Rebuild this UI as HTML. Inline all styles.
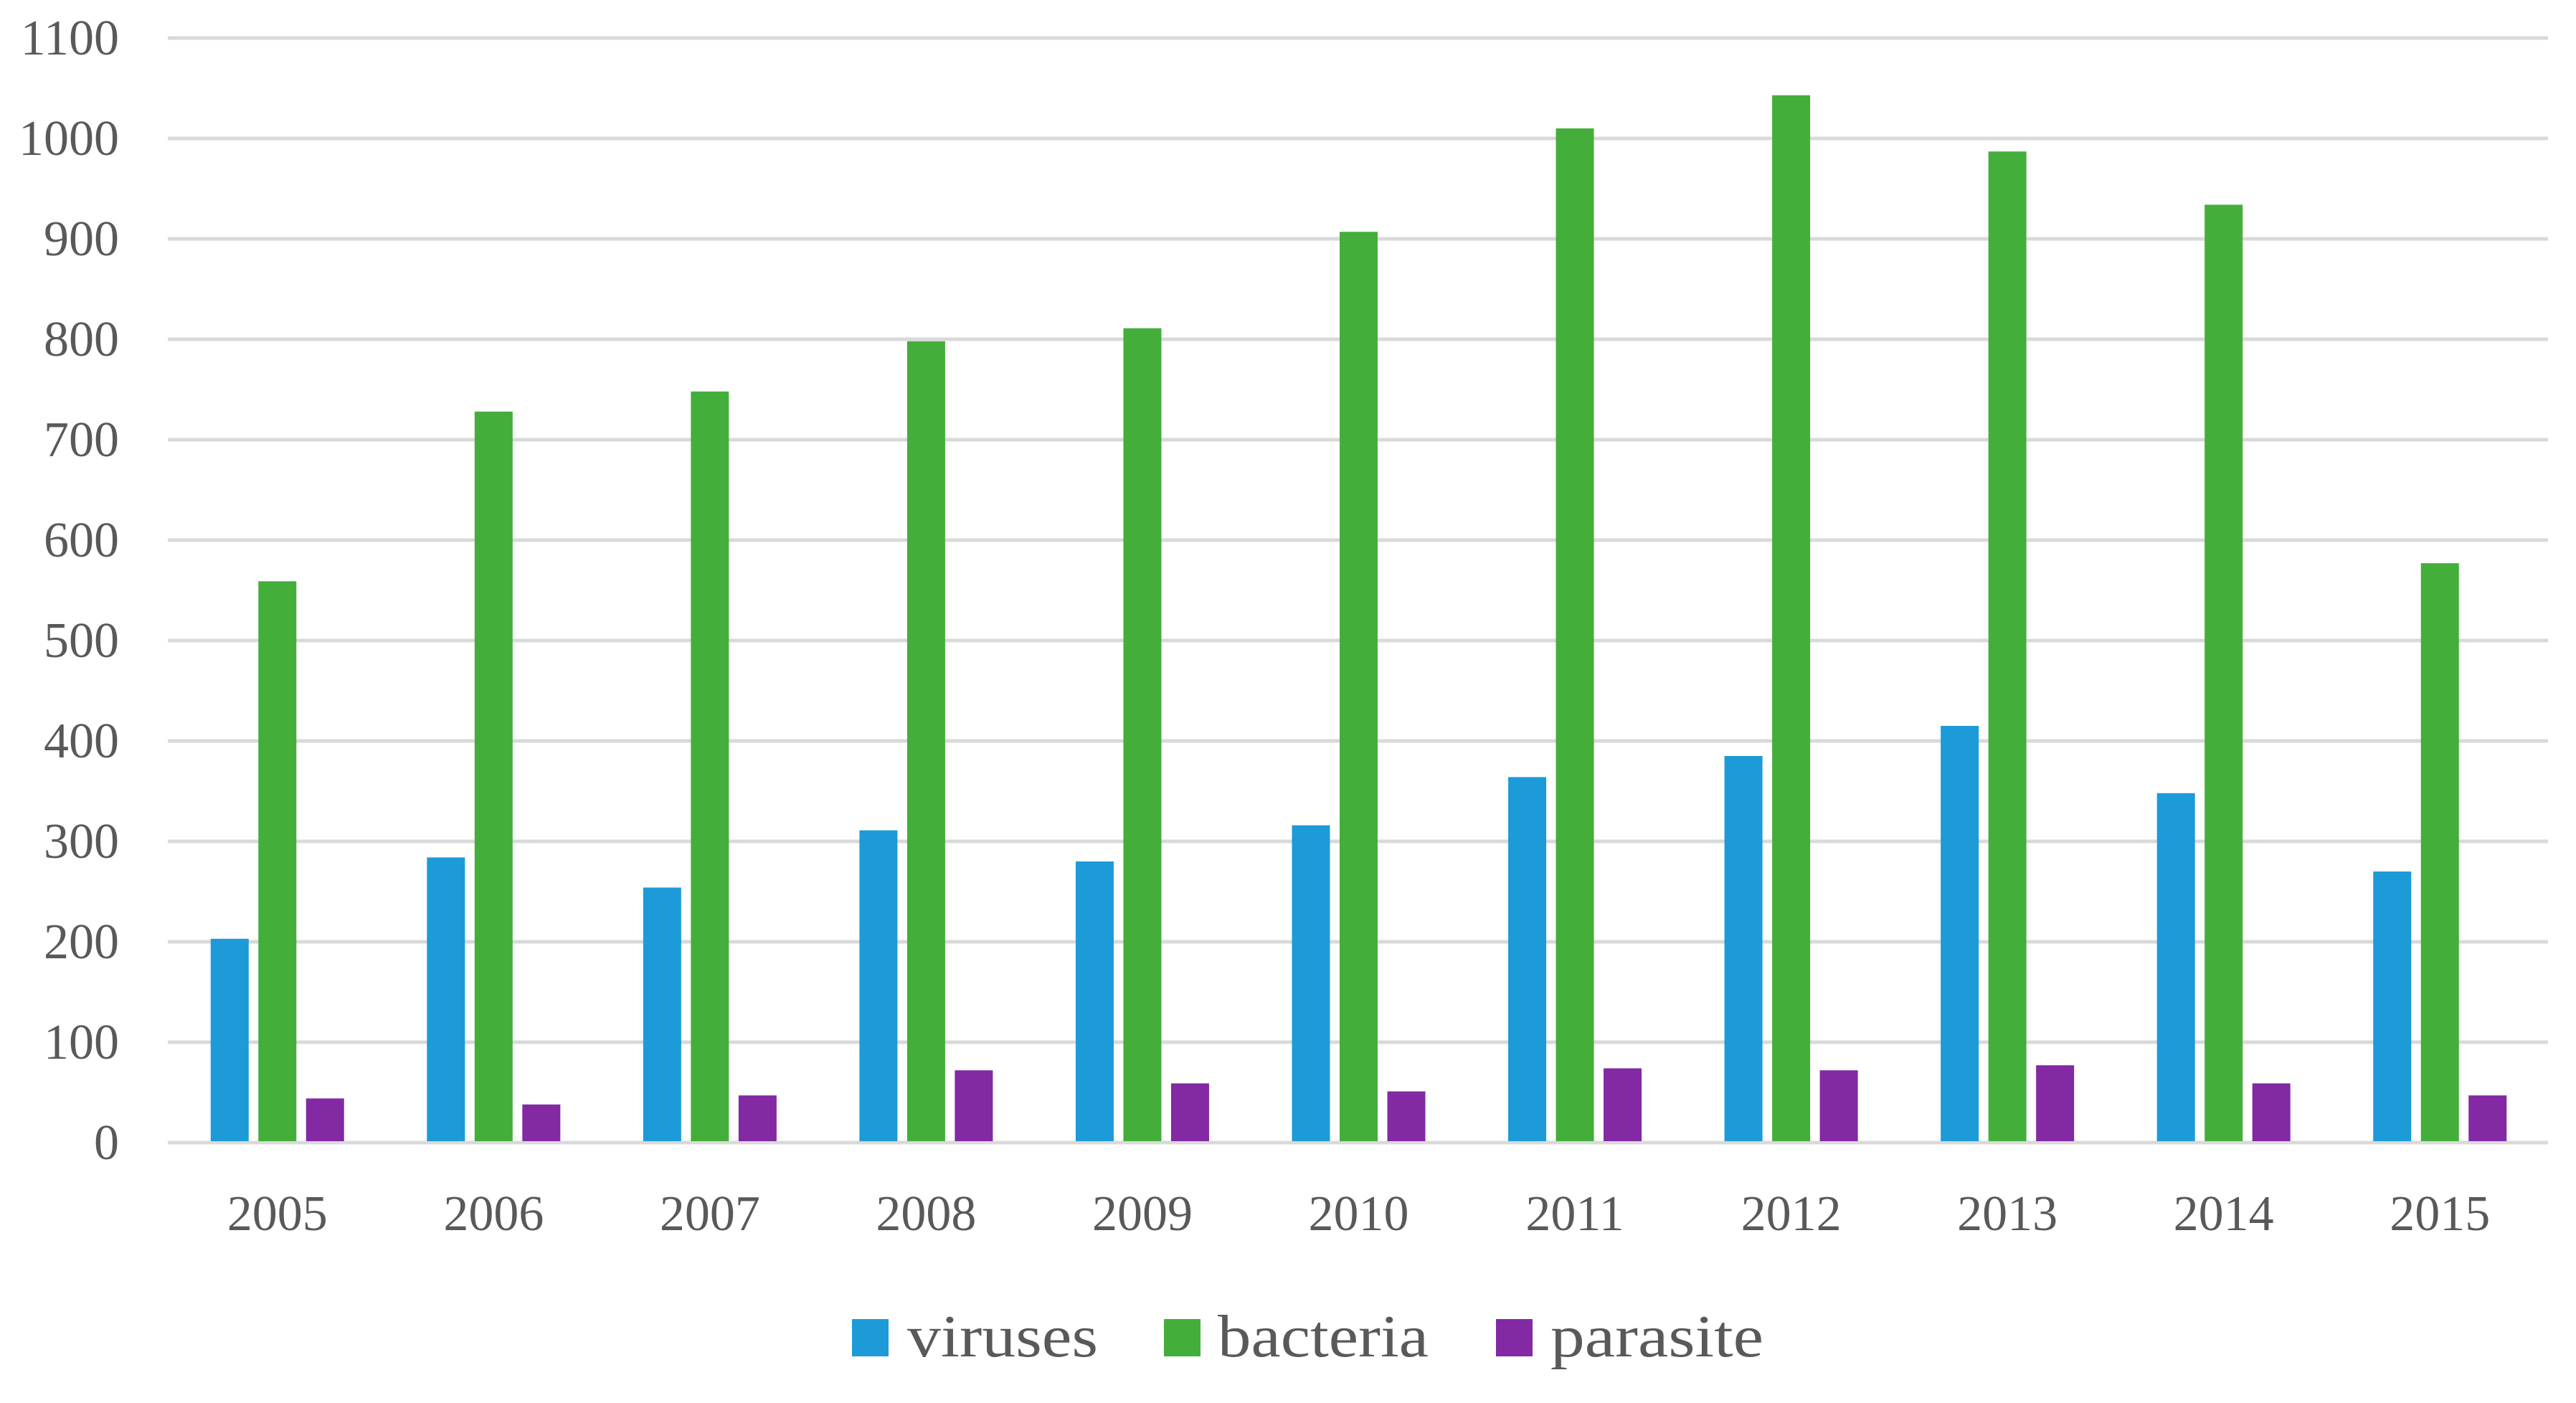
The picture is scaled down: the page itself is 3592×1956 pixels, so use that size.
<!DOCTYPE html>
<html><head><meta charset="utf-8"><style>
html,body{margin:0;padding:0;background:#fff;}
svg{display:block;}
text{font-family:"Liberation Serif",serif;fill:#595959;}
</style></head><body>
<svg id="chart" width="3592" height="1956" viewBox="0 0 3592 1956" xmlns="http://www.w3.org/2000/svg">
<g id="grid"></g>
<g id="yaxis"></g>
<g id="bars"></g>
<g id="xaxis"></g>
<g id="legend"></g>
</svg>
<script>
const categories = ["2005","2006","2007","2008","2009","2010","2011","2012","2013","2014","2015"];
const viruses = [203,284,254,311,280,316,364,385,415,348,270];
const bacteria = [559,728,748,798,811,907,1010,1043,987,934,577];
const parasite = [44,38,47,72,59,51,74,72,77,59,47];
const yTicks = [0,100,200,300,400,500,600,700,800,900,1000,1100];
const seriesNames = ["viruses","bacteria","parasite"];

const NS = "http://www.w3.org/2000/svg";
const colors = ["#1c9bd8","#44ae3b","#8229a3"];
const plotL = 236, plotR = 3553, y0 = 1593, yMaxPx = 53, yMax = 1100;
const step = (plotR - plotL) / categories.length;
const barW = 53, barGap = 66.5;
function yScale(v){ return y0 - (v / yMax) * (y0 - yMaxPx); }
function xCenter(i){ return plotL + step * (i + 0.5); }
function mk(tag, attrs, parent){ const e = document.createElementNS(NS, tag); for (const k in attrs) e.setAttribute(k, attrs[k]); parent.appendChild(e); return e; }

const grid = document.getElementById('grid');
const yaxis = document.getElementById('yaxis');
yTicks.forEach(t => {
  const l = mk('line', {x1: plotL - 2, x2: plotR, y1: yScale(t), y2: yScale(t), stroke: '#d9d9d9', 'stroke-width': 5}, grid);
  
  
  const tx = mk('text', {x: 166, y: yScale(t) + 23, 'text-anchor': 'end', 'font-size': 70}, yaxis);
  tx.textContent = t;
  
  
});

const bars = document.getElementById('bars');
const data = [viruses, bacteria, parasite];
categories.forEach((c, i) => {
  data.forEach((ser, s) => {
    const cx = xCenter(i) + (s - 1) * barGap;
    const r = mk('rect', {x: cx - barW / 2, y: yScale(ser[i]), width: barW, height: y0 - yScale(ser[i]) - 2, fill: colors[s]}, bars);
    
    
  });
});

const xaxis = document.getElementById('xaxis');
categories.forEach((c, i) => {
  const tx = mk('text', {x: xCenter(i), y: 1715, 'text-anchor': 'middle', 'font-size': 70}, xaxis);
  tx.textContent = c;
  
  
});

const legend = document.getElementById('legend');
const legItems = [{sq: 1188, tx: 1265, w: 266}, {sq: 1623, tx: 1698, w: 294}, {sq: 2086, tx: 2162, w: 297}];
seriesNames.forEach((n, s) => {
  const g = mk('g', {}, legend);
  
  
  const r = mk('rect', {x: legItems[s].sq, y: 1839, width: 51, height: 52, fill: colors[s]}, g);
  
  
  const t = mk('text', {x: legItems[s].tx, y: 1891, 'font-size': 84, textLength: legItems[s].w, lengthAdjust: 'spacingAndGlyphs'}, g);
  t.textContent = n;
  
  
});
</script>
</body></html>
